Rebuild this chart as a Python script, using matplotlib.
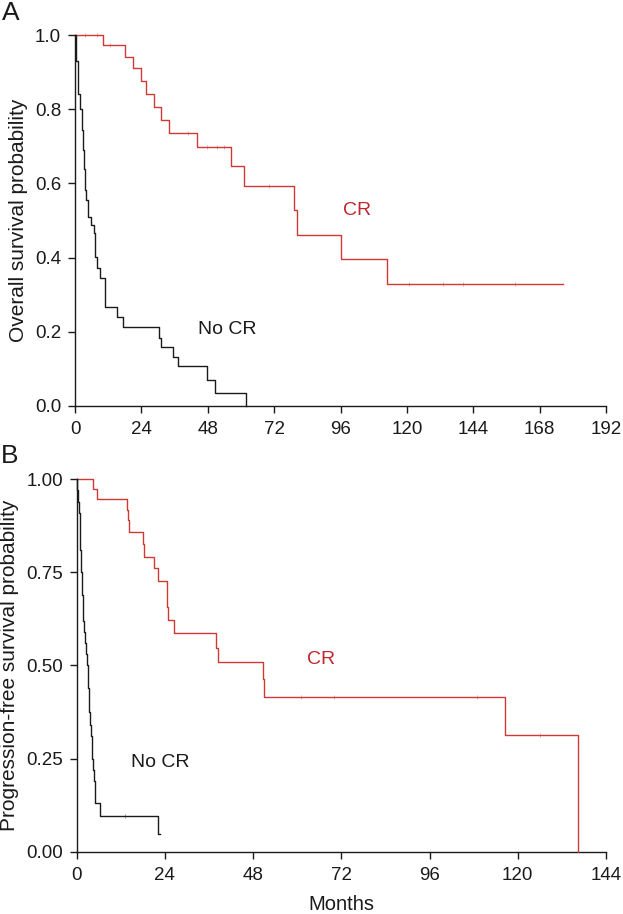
import numpy as np
import matplotlib.pyplot as plt

plt.rcParams['font.family'] = ['Liberation Sans', 'DejaVu Sans']

RED = '#cc3a33'
RED_TXT = '#c0272d'
BLACK = '#1a1a1a'

# Panel A - overall survival (months, survival after the event)
os_cr_t = [0, 10.2, 18.1, 20.9, 23.9, 25.7, 28.5, 31.1, 33.9, 44.1, 56.3, 61.2, 79.3, 80.4, 96.1, 112.7, 176.6]
os_cr_s = [1.0, 0.973, 0.941, 0.910, 0.876, 0.840, 0.805, 0.771, 0.735, 0.697, 0.647, 0.593, 0.527, 0.461, 0.395, 0.329, 0.329]
os_cr_cens_t = [3.6, 7.8, 12.7, 41.0, 47.6, 51.3, 54.0, 70.3, 120.6, 133.0, 140.4, 159.1]

os_nocr_t = [0, 0.3, 1.0, 1.2, 1.9, 2.4, 3.0, 3.4, 3.6, 4.0, 4.6, 5.8, 6.7, 7.3, 7.9, 9.1, 10.7, 11.0,
             15.3, 17.5, 30.2, 31.2, 35.6, 37.2, 47.9, 50.7, 61.8]
os_nocr_s = [1.0, 0.93, 0.87, 0.84, 0.80, 0.744, 0.69, 0.64, 0.582, 0.555, 0.51, 0.488, 0.465, 0.402, 0.371,
             0.344, 0.31, 0.267, 0.241, 0.214, 0.182, 0.16, 0.133, 0.107, 0.07, 0.035, 0.0]

# Panel B - progression-free survival
pfs_cr_t = [0, 4.5, 5.4, 13.6, 13.9, 14.3, 18.0, 18.4, 20.9, 22.2, 24.5, 24.8, 26.6, 37.8, 38.4, 50.8, 51.0, 116.5, 136.3]
pfs_cr_s = [1.0, 0.973, 0.947, 0.918, 0.891, 0.859, 0.826, 0.792, 0.761, 0.727, 0.658, 0.622, 0.586, 0.546,
            0.509, 0.463, 0.416, 0.313, 0.0]
pfs_cr_cens_t = [61.0, 70.0, 109.0, 126.0]

pfs_nocr_t = [0, 0.2, 0.4, 0.6, 0.8, 0.9, 1.0, 1.1, 1.3, 1.4, 1.5, 1.6, 1.7, 1.9, 2.3, 2.5, 2.9, 3.1, 3.2,
              3.3, 3.4, 3.6, 3.8, 4.2, 4.3, 4.4, 4.7, 4.9, 5.0, 6.3, 22.0, 22.8]
pfs_nocr_s = [1.0, 0.97, 0.94, 0.91, 0.875, 0.84, 0.81, 0.78, 0.75, 0.72, 0.69, 0.66, 0.62, 0.59, 0.56, 0.53,
              0.50, 0.47, 0.44, 0.41, 0.375, 0.34, 0.31, 0.28, 0.25, 0.22, 0.19, 0.16, 0.13, 0.096, 0.048, 0.048]
pfs_nocr_cens_t = [13.1]


def surv_at(t_list, s_list, t):
    s = s_list[0]
    for ti, si in zip(t_list, s_list):
        if ti <= t:
            s = si
    return s


def km(ax, t, s, color, cens=()):
    ax.step(t, s, where='post', color=color, lw=1.0, clip_on=False, zorder=3)
    if cens:
        ys = [surv_at(t, s, c) for c in cens]
        ax.plot(cens, ys, ls='none', marker='|', ms=3, mew=0.5, alpha=0.6, color=color,
                clip_on=False, zorder=3)


def style(ax, xmax, yticks, ylabels, ylabel):
    ax.set_xlim(0, xmax)
    ax.set_ylim(0, 1)
    ax.set_xticks(np.arange(0, xmax + 1, 24))
    ax.set_yticks(yticks)
    ax.set_yticklabels(ylabels)
    for sp in ['top', 'right']:
        ax.spines[sp].set_visible(False)
    for sp in ['left', 'bottom']:
        ax.spines[sp].set_linewidth(1.0)
        ax.spines[sp].set_color(BLACK)
    ax.tick_params(direction='out', length=5, width=1.0, labelsize=13.5, colors=BLACK)
    ax.tick_params(axis='x', pad=6)
    ax.tick_params(axis='y', pad=5)
    ax.set_ylabel(ylabel, fontsize=15, color=BLACK, labelpad=5)


fig = plt.figure(figsize=(6.23, 9.14), dpi=100)

axA = fig.add_axes([0.1204, 0.5558, 0.8523, 0.4059])
km(axA, os_cr_t, os_cr_s, RED, os_cr_cens_t)
km(axA, os_nocr_t, os_nocr_s, BLACK)
style(axA, 192, [0, 0.2, 0.4, 0.6, 0.8, 1.0], ['0.0', '0.2', '0.4', '0.6', '0.8', '1.0'],
      'Overall survival probability')
axA.text(101.9, 0.528, 'CR', color=RED_TXT, fontsize=14, ha='center', va='center')
axA.text(55.2, 0.205, 'No CR', color=BLACK, fontsize=14, ha='center', va='center')

axB = fig.add_axes([0.1231, 0.0682, 0.8496, 0.4074])
km(axB, pfs_cr_t, pfs_cr_s, RED, pfs_cr_cens_t)
km(axB, pfs_nocr_t, pfs_nocr_s, BLACK, pfs_nocr_cens_t)
style(axB, 144, [0, 0.25, 0.5, 0.75, 1.0], ['0.00', '0.25', '0.50', '0.75', '1.00'],
      'Progression-free survival probability')
axB.set_xlabel('Months', fontsize=14.5, color=BLACK, labelpad=8)
axB.text(66.4, 0.517, 'CR', color=RED_TXT, fontsize=14, ha='center', va='center')
axB.text(22.7, 0.240, 'No CR', color=BLACK, fontsize=14, ha='center', va='center')

fig.text(0.003, 0.986, 'A', fontsize=19, color=BLACK, va='center', ha='left')
fig.text(0.002, 0.501, 'B', fontsize=19, color=BLACK, va='center', ha='left')

fig.savefig('out.png', dpi=100)
